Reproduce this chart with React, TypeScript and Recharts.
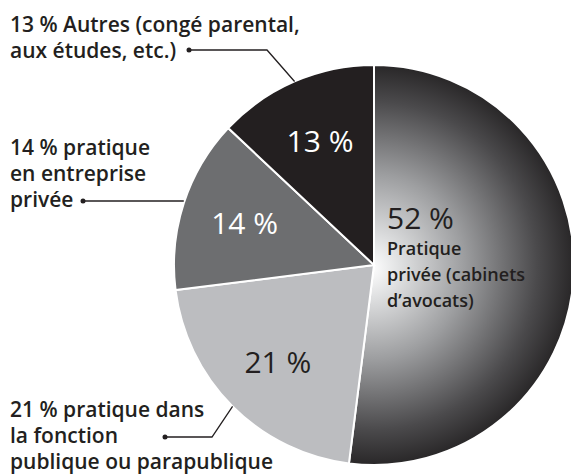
import React from 'react';
import { Cell, Pie, PieChart } from 'recharts';

// share of lawyers by type of practice (%)
const categories = [
  'Pratique privée (cabinets d’avocats)',
  'Pratique dans la fonction publique ou parapublique',
  'Pratique en entreprise privée',
  'Autres (congé parental, aux études, etc.)',
];
const shares = [52, 21, 14, 13];
// label text, split where the reference breaks its lines
const labelLines = [
  ['Pratique', 'privée (cabinets', 'd’avocats)'],
  ['21 % pratique dans', 'la fonction', 'publique ou parapublique'],
  ['14 % pratique', 'en entreprise', 'privée'],
  ['13 % Autres (congé parental,', 'aux études, etc.)'],
];

const sliceFills = ['url(#privateGrad)', '#bcbdc0', '#6d6e70', '#231f20'];
const valueColors = ['#231f20', '#231f20', '#ffffff', '#ffffff'];
// callout placement for the outside labels (null = label sits inside the slice)
const callouts = [
  null,
  { textY: 417, dotX: 165, dotY: 437, elbowX: 212 },
  { textY: 155, dotX: 83, dotY: 201, elbowX: null },
  { textY: 32, dotX: 189, dotY: 50, elbowX: 267 },
];

const data = categories.map((name, i) => ({ name, value: shares[i] }));

const INK = '#231f20';
const FONT = '"Open Sans", Lato, sans-serif';
const RAD = Math.PI / 180;
const LINE_H = 26;

function renderLabel(props: any) {
  const { cx, cy, midAngle, outerRadius, index, value } = props;
  const cos = Math.cos(-midAngle * RAD);
  const sin = Math.sin(-midAngle * RAD);

  if (index === 0) {
    const x = cx + 13;
    const y = cy - 36;
    return (
      <g key="lbl-0">
        <text x={x} y={y} fill={INK} fontFamily={FONT} fontSize={30}>
          {`${value} %`}
        </text>
        {labelLines[0].map((line, j) => (
          <text key={j} x={x} y={y + 26 + j * LINE_H} fill={INK} fontFamily={FONT} fontSize={18} fontWeight={600}>
            {line}
          </text>
        ))}
      </g>
    );
  }

  const ir = outerRadius * 0.68;
  const c = callouts[index]!;
  const ex = cx + outerRadius * cos;
  const ey = cy + outerRadius * sin;
  const pts = c.elbowX === null ? `${ex},${c.dotY} ${c.dotX},${c.dotY}` : `${ex},${ey} ${c.elbowX},${c.dotY} ${c.dotX},${c.dotY}`;

  return (
    <g key={`lbl-${index}`}>
      <text
        x={cx + ir * cos}
        y={cy + ir * sin}
        fill={valueColors[index]}
        fontFamily={FONT}
        fontSize={30}
        textAnchor="middle"
        dominantBaseline="central"
      >
        {`${value} %`}
      </text>
      <polyline points={pts} fill="none" stroke={INK} strokeWidth={1.3} />
      <circle cx={c.dotX} cy={c.dotY} r={2.5} fill={INK} />
      {labelLines[index].map((line, j) => (
        <text key={j} x={10} y={c.textY + j * LINE_H} fill={INK} fontFamily={FONT} fontSize={21} fontWeight={600}>
          {line}
        </text>
      ))}
    </g>
  );
}

export default function App() {
  return (
    <div style={{ position: 'fixed', left: 0, top: 0, background: '#fff' }}>
      <PieChart width={571} height={474} margin={{ top: 0, right: 0, bottom: 0, left: 0 }}>
        <defs>
          <radialGradient id="privateGrad" gradientUnits="userSpaceOnUse" cx={374} cy={265} r={205} fx={370} fy={268}>
            <stop offset="0%" stopColor="#ffffff" />
            <stop offset="15%" stopColor="#dedfe0" />
            <stop offset="45%" stopColor="#9d9ea0" />
            <stop offset="80%" stopColor="#4b4a4c" />
            <stop offset="100%" stopColor="#242223" />
          </radialGradient>
        </defs>
        <Pie
          data={data}
          dataKey="value"
          nameKey="name"
          cx={374}
          cy={265}
          outerRadius={200}
          startAngle={90}
          endAngle={-270}
          stroke="#ffffff"
          strokeWidth={2}
          labelLine={false}
          label={renderLabel}
          isAnimationActive={false}
        >
          {data.map((d, i) => (
            <Cell key={d.name} fill={sliceFills[i]} />
          ))}
        </Pie>
      </PieChart>
    </div>
  );
}
